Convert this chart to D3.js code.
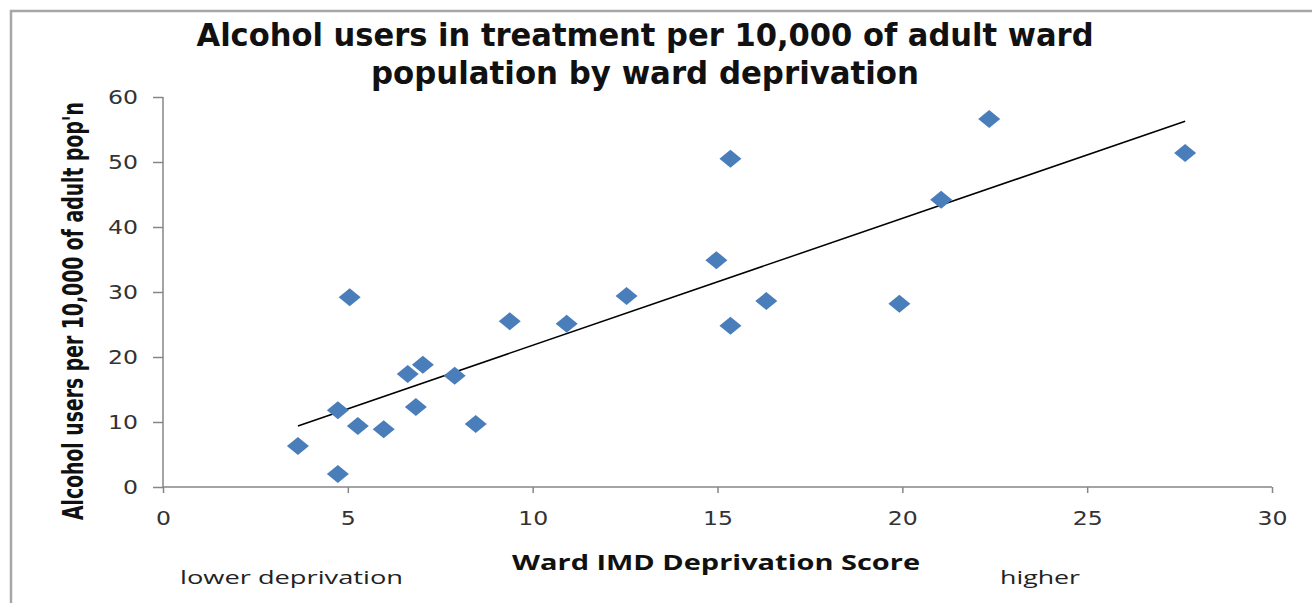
<!DOCTYPE html>
<html><head><meta charset="utf-8">
<script src="https://cdn.jsdelivr.net/npm/d3@7"></script>
<style>
body{margin:0;background:#fff;}
svg{display:block;}
</style></head>
<body><svg id="c" width="1312" height="603"></svg>
<script>
// Ward IMD deprivation score (x) and alcohol users per 10,000 adults (y)
const imdScore = [3.65, 4.73, 4.73, 5.05, 5.27, 5.97, 6.62, 7.03, 6.84, 7.89, 8.46, 9.38, 10.92, 12.54, 14.97, 15.35, 15.35, 16.32, 19.92, 21.05, 22.35, 27.65];
const usersPer10k = [6.3, 2.0, 11.8, 29.2, 9.4, 8.9, 17.4, 18.8, 12.3, 17.1, 9.7, 25.5, 25.1, 29.4, 34.9, 50.5, 24.8, 28.6, 28.2, 44.2, 56.6, 51.4];
const xTicks = [0, 5, 10, 15, 20, 25, 30];
const yTicks = [0, 10, 20, 30, 40, 50, 60];
const titleLines = ["Alcohol users in treatment per 10,000 of adult ward", "population by ward deprivation"];
const xTitle = "Ward IMD Deprivation  Score";
const yTitle = "Alcohol users per 10,000 of adult  pop'n";

const svg = d3.select("#c");
const x = d3.scaleLinear().domain([0, 30]).range([163, 1272]);
const y = d3.scaleLinear().domain([0, 60]).range([487, 97]);

// outer border
svg.append("path").attr("d", "M11,603 V11 H1312").attr("fill", "none").attr("stroke", "#a6a6a6").attr("stroke-width", 2.5);

const narrow = "'Liberation Sans Narrow','Arial Narrow','DejaVu Sans Condensed',sans-serif";
const tickFont = "Verdana,'DejaVu Sans',sans-serif";
const sans = "'Open Sans','DejaVu Sans',sans-serif";

// title
const titleW = [897, 548];
svg.append("g").selectAll("text").data(titleLines).join("text")
  .attr("x", 645).attr("y", (d, i) => 46 + i * 38)
  .attr("text-anchor", "middle")
  .attr("textLength", (d, i) => titleW[i]).attr("lengthAdjust", "spacingAndGlyphs")
  .style("font-family", narrow).style("font-weight", "bold").style("font-size", "32px").style("fill", "#111")
  .text(d => d);

// axes
const gx = svg.append("g").attr("transform", `translate(0,${y(0)})`)
  .call(d3.axisBottom(x).tickValues(xTicks).tickSize(6).tickPadding(18).tickSizeOuter(0));
const gy = svg.append("g").attr("transform", `translate(${x(0)},0)`)
  .call(d3.axisLeft(y).tickValues(yTicks).tickSize(10).tickPadding(15).tickSizeOuter(0));
[gx, gy].forEach(g => {
  g.select(".domain").attr("stroke", "#868686").attr("stroke-width", 1.5);
  g.selectAll(".tick line").attr("stroke", "#868686").attr("stroke-width", 1.5);
  g.selectAll(".tick text").style("font-family", tickFont).style("font-size", "20px").style("fill", "#333")
    .attr("textLength", d => String(d).length * 15).attr("lengthAdjust", "spacingAndGlyphs");
});
gx.select(".domain").attr("d", `M${x(0)},0H${x(30)}`);
gx.selectAll(".tick line").attr("y1", 0);
gy.select(".domain").attr("d", `M0,${y(60)}V${y(0)}`);

// trend line (least squares)
const mx = d3.mean(imdScore), my = d3.mean(usersPer10k);
let sxy = 0, sxx = 0;
imdScore.forEach((v, i) => { sxy += (v - mx) * (usersPer10k[i] - my); sxx += (v - mx) ** 2; });
const slope = sxy / sxx, icpt = my - slope * mx;
const [xmin, xmax] = d3.extent(imdScore);
svg.append("line")
  .attr("x1", x(xmin)).attr("y1", y(icpt + slope * xmin))
  .attr("x2", x(xmax)).attr("y2", y(icpt + slope * xmax))
  .attr("stroke", "#000").attr("stroke-width", 1.5);

// points
const diamond = "M0,-9L11,0L0,9L-11,0Z";
svg.append("g").selectAll("path").data(imdScore.map((v, i) => [v, usersPer10k[i]])).join("path")
  .attr("transform", d => `translate(${x(d[0])},${y(d[1])})`)
  .attr("d", diamond).attr("fill", "#4a7ebb");

// axis titles
svg.append("text").attr("x", 716).attr("y", 570).attr("text-anchor", "middle")
  .attr("textLength", 408).attr("lengthAdjust", "spacingAndGlyphs")
  .style("font-family", sans).style("font-weight", "bold").style("font-size", "21px").style("fill", "#111")
  .text(xTitle);
svg.append("text").attr("transform", "translate(83,311) rotate(-90)").attr("text-anchor", "middle")
  .attr("textLength", 418).attr("lengthAdjust", "spacingAndGlyphs")
  .style("font-family", narrow).style("font-weight", "bold").style("font-size", "28px").style("fill", "#111")
  .text(yTitle);

// annotations
svg.append("text").attr("x", 180).attr("y", 584)
  .attr("textLength", 223).attr("lengthAdjust", "spacingAndGlyphs")
  .style("font-family", sans).style("font-size", "19px").style("fill", "#222")
  .text("lower deprivation");
svg.append("text").attr("x", 1000).attr("y", 584)
  .attr("textLength", 80).attr("lengthAdjust", "spacingAndGlyphs")
  .style("font-family", sans).style("font-size", "19px").style("fill", "#222")
  .text("higher");
</script></body></html>
